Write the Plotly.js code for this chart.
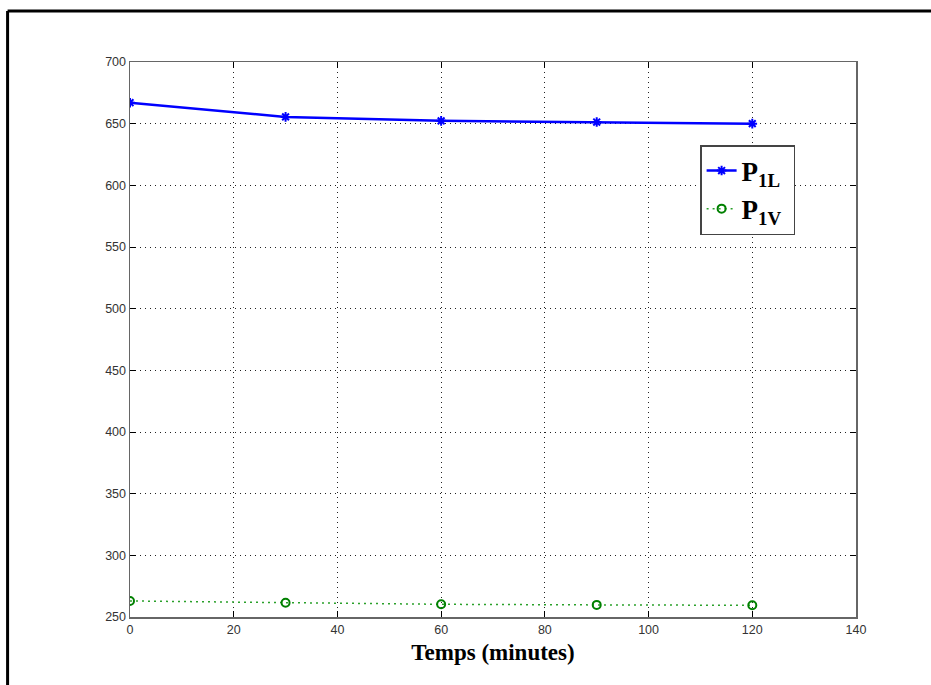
<!DOCTYPE html>
<html>
<head>
<meta charset="utf-8">
<script src="https://cdn.plot.ly/plotly-3.0.1.min.js"></script>
<style>html,body{margin:0;padding:0;background:#fff;}#chart{width:931px;height:685px;}</style>
</head>
<body>
<div id="chart"></div>
<script>
const timeMinutes = [0, 30, 60, 90, 120];
const p1L = [667, 655.5, 652.3, 651.3, 650];
const p1V = [263, 261.5, 260.3, 259.8, 259.5];
const xTicks = [0, 20, 40, 60, 80, 100, 120, 140];
const yTicks = [250, 300, 350, 400, 450, 500, 550, 600, 650, 700];

const traces = [
  {x: timeMinutes, y: p1L, name: 'P<sub>1L</sub> ', mode: 'lines+markers',
   line: {color: '#0000ff', width: 2.5},
   marker: {symbol: 'asterisk-open', size: 8, color: '#0000ff', line: {color: '#0000ff', width: 2}}},
  {x: timeMinutes, y: p1V, name: 'P<sub>1V</sub> ', mode: 'lines+markers',
   line: {color: '#2aa02a', width: 1.5, dash: '2px,4px'},
   marker: {symbol: 'circle-open', size: 8, color: '#008000', line: {color: '#008000', width: 2}}}
];

const axisCommon = {
  showline: true, linecolor: '#666', linewidth: 1.5, mirror: 'allticks',
  ticks: 'inside', ticklen: 6, tickcolor: '#000', tickwidth: 1,
  showgrid: true, gridcolor: '#222', griddash: '1px,4px', gridwidth: 1,
  zeroline: false,
  tickfont: {family: 'Liberation Sans, Arial, sans-serif', size: 12.5, color: '#333'}
};

const layout = {
  width: 931, height: 685,
  margin: {l: 129.5, r: 75, t: 62, b: 68},
  paper_bgcolor: '#fff', plot_bgcolor: '#fff',
  showlegend: true,
  legend: {x: (700 - 129.5) / 726.5, y: (617 - 145) / 555, xanchor: 'left', yanchor: 'top',
    bordercolor: '#444', borderwidth: 1.5, bgcolor: '#fff',
    font: {family: 'Liberation Serif, Times New Roman, serif', size: 27, color: '#000', weight: 'bold'},
    tracegroupgap: 4},
  xaxis: Object.assign({}, axisCommon, {range: [0, 140], tickvals: xTicks, ticktext: xTicks.map(String),
    title: {text: '<b>Temps (minutes)</b>', font: {family: 'Liberation Serif, Times New Roman, serif', size: 23, color: '#000'}, standoff: 8}}),
  yaxis: Object.assign({}, axisCommon, {range: [250, 700], tickvals: yTicks, ticktext: yTicks.map(String)}),
  shapes: [
    {type: 'line', xref: 'paper', yref: 'paper', x0: (7 - 129.5) / 726.5, x1: (7 - 129.5) / 726.5, y0: (617 - 11) / 555, y1: (617 - 700) / 555, line: {color: '#000', width: 3}},
    {type: 'line', xref: 'paper', yref: 'paper', x0: (7 - 129.5) / 726.5, x1: (940 - 129.5) / 726.5, y0: (617 - 11) / 555, y1: (617 - 11) / 555, line: {color: '#000', width: 3}}
  ]
};

Plotly.newPlot('chart', traces, layout, {displayModeBar: false, staticPlot: true});
</script>
</body>
</html>
